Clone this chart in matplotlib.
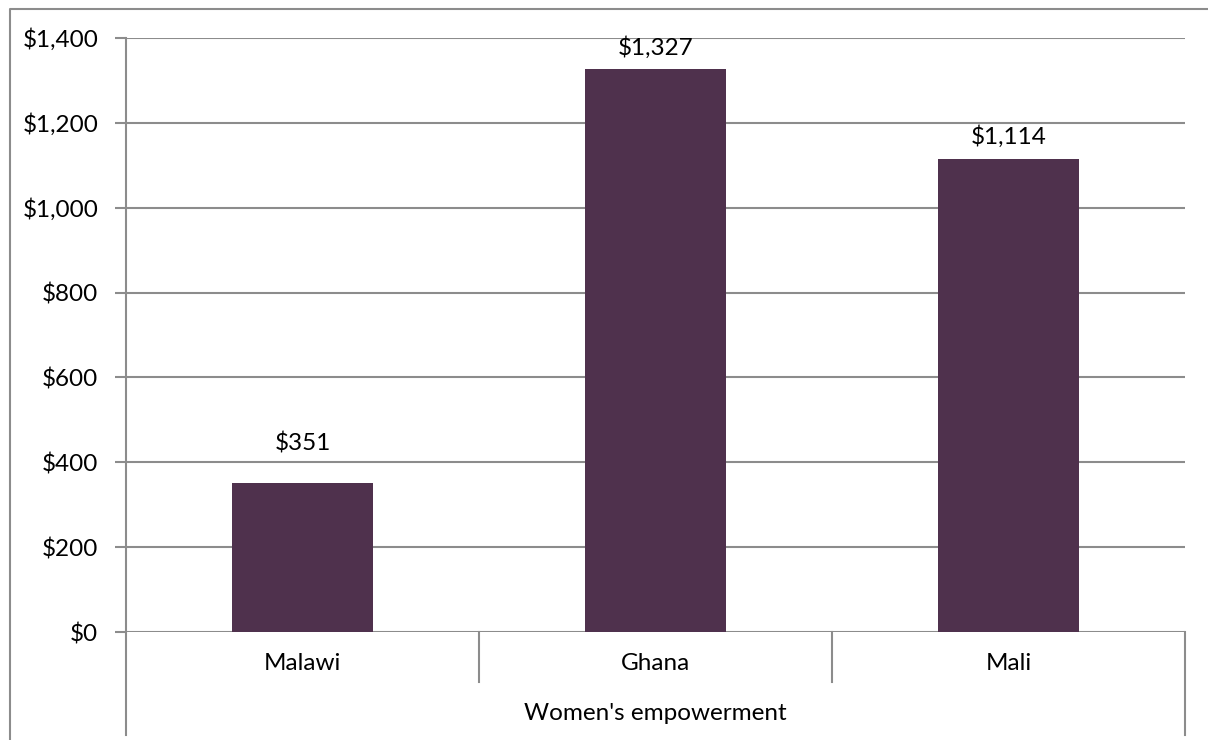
import matplotlib.pyplot as plt
from matplotlib.lines import Line2D
from matplotlib.ticker import FuncFormatter

# Datos
paises = ['Malawi', 'Ghana', 'Mali']
valores = [351, 1327, 1114]
grupo = "Women's empowerment"
ticks_y = [0, 200, 400, 600, 800, 1000, 1200, 1400]

plt.rcParams['font.family'] = ['Lato', 'DejaVu Sans']

W, H = 1208, 740
fig = plt.figure(figsize=(W / 100, H / 100), dpi=100)

gris = '#8c8c8c'
morado = '#4f314d'
tam = 17.5

# area del grafico en pixeles
x0, x1 = 126, 1185
y0, y1 = 632, 38
ax = fig.add_axes([x0 / W, 1 - y0 / H, (x1 - x0) / W, (y0 - y1) / H])

x = list(range(len(paises)))
ax.bar(x, valores, width=0.4, color=morado, zorder=3)
ax.set_xlim(-0.5, len(paises) - 0.5)
ax.set_ylim(0, 1400)
ax.set_yticks(ticks_y)
ax.yaxis.set_major_formatter(FuncFormatter(lambda v, p: '${:,.0f}'.format(v)))
ax.tick_params(axis='y', direction='out', length=8, width=1.5, color=gris,
               labelsize=tam, pad=12)
ax.set_xticks([])
ax.grid(axis='y', color=gris, linewidth=1.5, zorder=0)
for s in ['top', 'right', 'bottom']:
    ax.spines[s].set_visible(False)
ax.spines['left'].set_color(gris)
ax.spines['left'].set_linewidth(1.5)

# etiquetas de valor
desplaz = [40, 21, 23]
for xi, v, d in zip(x, valores, desplaz):
    ax.annotate('${:,.0f}'.format(v), (xi, v), xytext=(0, d * 0.72),
                textcoords='offset points', ha='center', va='center', fontsize=tam)

# eje de categorias con dos niveles
def px(xp, yp):
    return xp / W, 1 - yp / H

for xs, yb in [(126, 735), (479, 682), (832, 682), (1185, 735)]:
    (a, b), (c, d) = px(xs, 632), px(xs, yb)
    fig.add_artist(Line2D([a, c], [b, d], color=gris, linewidth=1.5))

cat_w = (x1 - x0) / len(paises)
for i, p in enumerate(paises):
    fig.text(*px(x0 + cat_w * (i + 0.5), 664), p, ha='center', va='center', fontsize=tam)
fig.text(*px((x0 + x1) / 2, 713), grupo, ha='center', va='center', fontsize=tam)

# borde exterior
fig.add_artist(Line2D([10 / W, 10 / W, 1], [0, 1 - 9 / H, 1 - 9 / H],
                      color=gris, linewidth=1.5))

fig.savefig('out.png', dpi=100)
